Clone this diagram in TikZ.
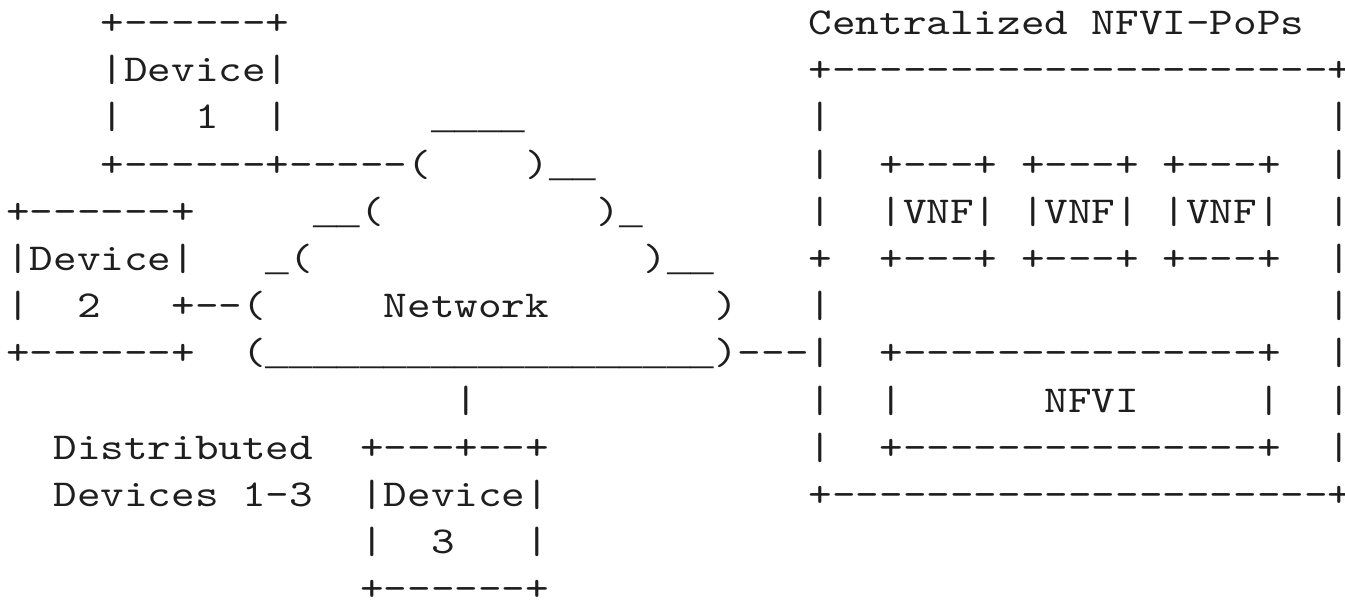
\documentclass[tikz,border=0pt]{standalone}
\usepackage{fontspec}
\setmonofont{lmmono10-regular.otf}[FakeStretch=1.183]
% full-width, low underscores for the cloud outline
\newfontfamily\ulinefont{Liberation Mono}
\newcommand\ul[1]{{\ulinefont\fontsize{19.67pt}{23.6pt}\selectfont#1}}
\definecolor{inkgray}{RGB}{30,30,30}
\tikzset{
  ascii/.style={anchor=base west, inner sep=0pt, outer sep=0pt,
    font=\ttfamily\fontsize{19pt}{23.6pt}\selectfont, text=inkgray}
}
% one run of characters placed on the character grid: name, column, row, text
\newcommand\asc[4]{\node[ascii] (#1) at (#2,#3) {#4};}
\begin{document}
\begin{tikzpicture}
\useasboundingbox (0,0) rectangle (672.5pt,-300pt);
\begin{scope}[x=11.8pt, y=-23.6pt, shift={(3.1pt,-17.25pt)}]
% row 0
\asc{d1top}{4}{0}{+------+}
\asc{poptitle}{34}{0}{Centralized NFVI-PoPs}
% row 1
\asc{d1name}{4}{1}{|Device|}
\asc{poptop}{34}{1}{+---------------------+}
% row 2
\asc{d1l2}{4}{2}{|}
\asc{d1num}{8}{2}{1}
\asc{d1r2}{11}{2}{|}
\asc{cloudtop}{18}{2}{\ul{\_\_\_\_}}
\asc{popl2}{34}{2}{|}
\asc{popr2}{56}{2}{|}
% row 3
\asc{d1link}{4}{3}{+------+-----(}
\asc{cloudr3}{22}{3}{)\ul{\_\_}}
\asc{popl3}{34}{3}{|}
\asc{vnfat}{37}{3}{+---+}
\asc{vnfbt}{43}{3}{+---+}
\asc{vnfct}{49}{3}{+---+}
\asc{popr3}{56}{3}{|}
% row 4
\asc{d2top}{0}{4}{+------+}
\asc{cloudl4}{13}{4}{\ul{\_\_}(}
\asc{cloudr4}{25}{4}{)\ul{\_}}
\asc{popl4}{34}{4}{|}
\asc{vnfa}{37}{4}{|VNF|}
\asc{vnfb}{43}{4}{|VNF|}
\asc{vnfc}{49}{4}{|VNF|}
\asc{popr4}{56}{4}{|}
% row 5
\asc{d2name}{0}{5}{|Device|}
\asc{cloudl5}{11}{5}{\ul{\_}(}
\asc{cloudr5}{27}{5}{)\ul{\_\_}}
\asc{popl5}{34}{5}{+}
\asc{vnfab}{37}{5}{+---+}
\asc{vnfbb}{43}{5}{+---+}
\asc{vnfcb}{49}{5}{+---+}
\asc{popr5}{56}{5}{|}
% row 6
\asc{d2l6}{0}{6}{|}
\asc{d2num}{3}{6}{2}
\asc{d2link}{7}{6}{+--(}
\asc{netlabel}{16}{6}{Network}
\asc{cloudr6}{30}{6}{)}
\asc{popl6}{34}{6}{|}
\asc{popr6}{56}{6}{|}
% row 7
\asc{d2bot}{0}{7}{+------+}
\asc{cloudbot}{10}{7}{(\ul{\_\_\_\_\_\_\_\_\_\_\_\_\_\_\_\_\_\_\_})---|}
\asc{nfvitop}{37}{7}{+---------------+}
\asc{popr7}{56}{7}{|}
% row 8
\asc{d3link}{19}{8}{|}
\asc{popl8}{34}{8}{|}
\asc{nfvil}{37}{8}{|}
\asc{nfvilabel}{44}{8}{NFVI}
\asc{nfvir}{53}{8}{|}
\asc{popr8}{56}{8}{|}
% row 9
\asc{distline1}{2}{9}{Distributed}
\asc{d3top}{15}{9}{+---+--+}
\asc{popl9}{34}{9}{|}
\asc{nfvibot}{37}{9}{+---------------+}
\asc{popr9}{56}{9}{|}
% row 10
\asc{distline2}{2}{10}{Devices 1-3}
\asc{d3name}{15}{10}{|Device|}
\asc{popbot}{34}{10}{+---------------------+}
% row 11
\asc{d3l11}{15}{11}{|}
\asc{d3num}{18}{11}{3}
\asc{d3r11}{22}{11}{|}
% row 12
\asc{d3bot}{15}{12}{+------+}
\end{scope}
\end{tikzpicture}
\end{document}
